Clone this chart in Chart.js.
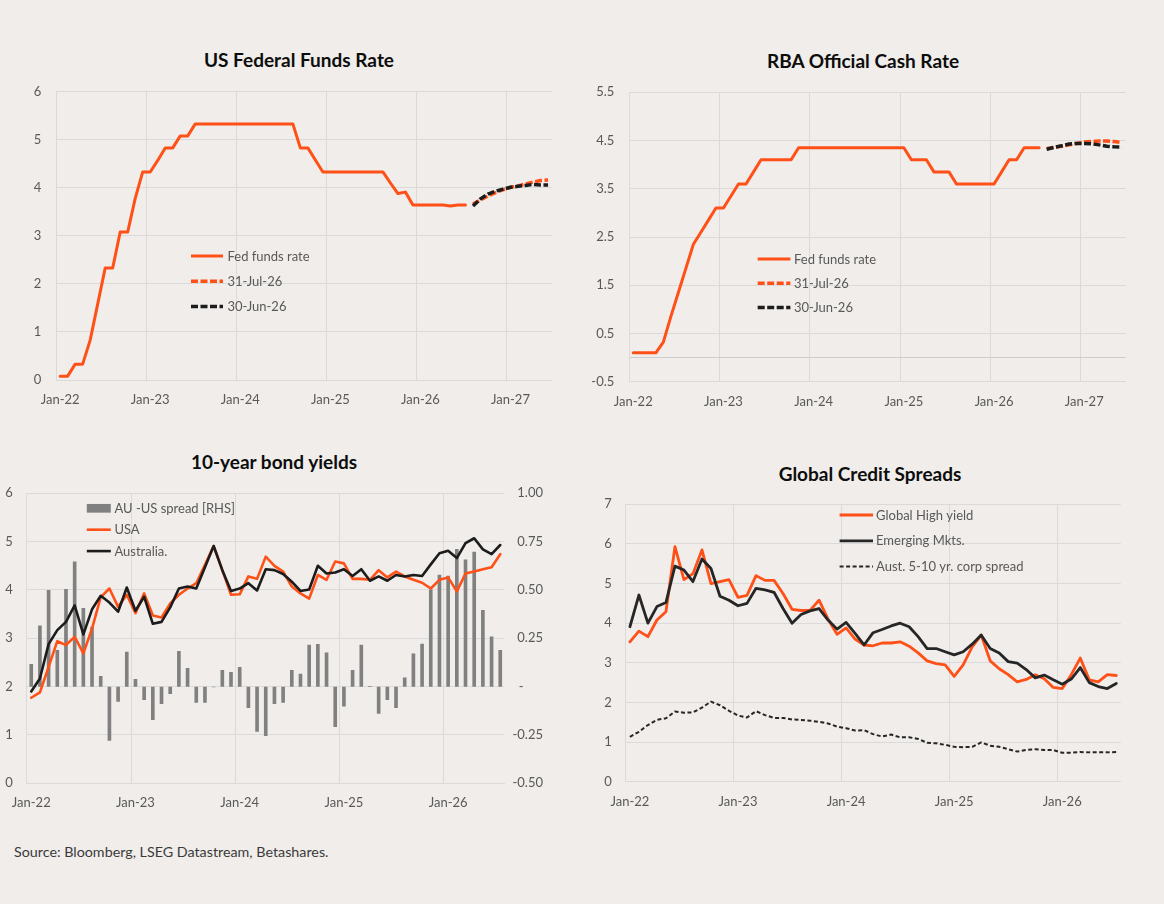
<!DOCTYPE html>
<html>
<head>
<meta charset="utf-8">
<script src="https://cdn.jsdelivr.net/npm/chart.js@4.4.1/dist/chart.umd.min.js"></script>
<style>
  html, body { margin: 0; padding: 0; }
  body { width: 1164px; height: 904px; background: #F0EDEA; position: relative; overflow: hidden; font-family: Lato, "Noto Sans", sans-serif; }
  .box { position: absolute; }
  .title { position: absolute; width: 400px; text-align: center; font: bold 19px Lato, "Noto Sans", sans-serif; color: #0d0d0d; line-height: 22px; }
  .source { position: absolute; left: 14px; top: 843px; font: 14.3px Lato, "Noto Sans", sans-serif; color: #3a3a3a; }
</style>
</head>
<body>
<div class="title" style="left:99px;top:49px;">US Federal Funds Rate</div>
<div class="title" style="left:663px;top:50px;">RBA Official Cash Rate</div>
<div class="title" style="left:74px;top:451px;">10-year bond yields</div>
<div class="title" style="left:670px;top:463px;">Global Credit Spreads</div>
<div class="source">Source: Bloomberg, LSEG Datastream, Betashares.</div>

<div class="box" style="left:0px;top:30px;width:580px;height:400px;"><canvas id="cA" width="580" height="400"></canvas></div>
<div class="box" style="left:580px;top:30px;width:584px;height:400px;"><canvas id="cB" width="584" height="400"></canvas></div>
<div class="box" style="left:0px;top:440px;width:580px;height:400px;"><canvas id="cC" width="580" height="400"></canvas></div>
<div class="box" style="left:580px;top:440px;width:584px;height:400px;"><canvas id="cD" width="584" height="400"></canvas></div>

<script>
// ---------------- DATA ----------------
const monthNames = ['Jan','Feb','Mar','Apr','May','Jun','Jul','Aug','Sep','Oct','Nov','Dec'];
function monthLabels(startYear, count) {
  const out = [];
  for (let i = 0; i < count; i++) {
    const y = startYear + Math.floor(i / 12);
    out.push(monthNames[i % 12] + '-' + String(y).slice(2));
  }
  return out;
}
// Categories: Jan-22 .. Jun-27 (policy rate charts), Jan-22 .. Jul-26 (market charts)
const policyMonths = monthLabels(2022, 66);
const marketMonths = monthLabels(2022, 55);

// US Federal Funds Rate (monthly, Jan-22 .. Jul-26)
const fedFunds = [0.08,0.08,0.33,0.33,0.83,1.58,2.33,2.33,3.08,3.08,3.78,4.33,4.33,4.57,4.83,4.83,5.08,5.08,
  5.33,5.33,5.33,5.33,5.33,5.33,5.33,5.33,5.33,5.33,5.33,5.33,5.33,5.33,
  4.83,4.83,4.58,4.33,4.33,4.33,4.33,4.33,4.33,4.33,4.33,4.33,4.10,3.88,3.91,3.64,3.64,3.64,3.64,3.64,3.62,3.64,3.64];
// Market-implied paths, Aug-26 .. Jun-27
const fedJul26 = [3.66,3.75,3.83,3.90,3.96,4.01,4.04,4.08,4.12,4.15,4.16];
const fedJun26 = [3.62,3.77,3.87,3.93,3.97,4.01,4.03,4.05,4.07,4.06,4.06];

// RBA Official Cash Rate (monthly, Jan-22 .. Jul-26)
const rbaCash = [0.10,0.10,0.10,0.10,0.32,0.85,1.35,1.85,2.35,2.60,2.85,3.10,3.10,3.35,3.60,3.60,3.85,4.10,4.10,4.10,4.10,4.10,
  4.35,4.35,4.35,4.35,4.35,4.35,4.35,4.35,4.35,4.35,4.35,4.35,4.35,4.35,4.35,
  4.10,4.10,4.10,3.85,3.85,3.85,3.60,3.60,3.60,3.60,3.60,3.60,3.85,4.10,4.10,4.35,4.35,4.35];
const rbaJul26 = [4.33,4.36,4.38,4.41,4.44,4.47,4.48,4.49,4.49,4.48,4.46];
const rbaJun26 = [4.32,4.36,4.39,4.43,4.44,4.44,4.43,4.41,4.38,4.37,4.365];
const rbaTickValues = [-0.5, 0, 0.5, 1.5, 2.5, 3.5, 4.5, 5.5];

// 10-year bond yields (monthly, Jan-22 .. Jul-26)
const auUsSpread = [0.117,0.316,0.50,0.19,0.505,0.647,0.407,0.31,0.055,-0.28,-0.078,0.18,0.04,-0.069,-0.172,-0.09,-0.038,0.184,0.097,-0.083,
  -0.083,-0.003,0.086,0.076,0.102,-0.11,-0.233,-0.255,-0.09,-0.083,0.086,0.067,0.217,0.22,0.176,-0.209,-0.103,0.086,0.217,0.003,
  -0.14,-0.069,-0.11,0.047,0.171,0.222,0.503,0.579,0.574,0.712,0.657,0.698,0.397,0.259,0.19];
const usa10y = [1.77,1.88,2.41,2.94,2.86,3.03,2.69,3.20,3.85,4.03,3.65,3.90,3.52,3.93,3.47,3.43,3.72,3.90,4.03,4.14,
  4.52,4.91,4.41,3.90,3.91,4.28,4.23,4.69,4.50,4.38,4.07,3.93,3.82,4.31,4.21,4.59,4.55,4.23,4.23,4.21,
  4.41,4.26,4.38,4.28,4.21,4.15,4.03,4.21,4.26,3.97,4.34,4.38,4.43,4.47,4.74];
const aus10y = [1.90,2.17,2.88,3.17,3.34,3.68,3.08,3.60,3.88,3.74,3.55,4.05,3.57,3.86,3.30,3.34,3.64,4.03,4.07,4.03,
  4.47,4.91,4.41,3.98,4.03,4.14,3.99,4.43,4.41,4.33,4.17,3.98,4.01,4.50,4.34,4.36,4.43,4.29,4.43,4.19,
  4.28,4.19,4.31,4.28,4.31,4.29,4.53,4.76,4.81,4.66,4.97,5.07,4.84,4.74,4.93];

// Global credit spreads (monthly, Jan-22 .. Jul-26)
const globalHY = [3.53,3.80,3.66,4.08,4.29,5.93,5.10,5.25,5.85,5.00,5.05,5.10,4.65,4.70,5.20,5.08,5.08,4.75,4.35,4.32,
  4.32,4.58,4.10,3.72,3.88,3.60,3.45,3.43,3.50,3.50,3.53,3.42,3.25,3.05,2.98,2.95,2.66,2.95,3.40,3.70,
  3.05,2.85,2.70,2.52,2.58,2.70,2.60,2.38,2.35,2.70,3.12,2.57,2.52,2.70,2.68];
const emergingMkts = [3.91,4.71,4.00,4.42,4.52,5.44,5.34,5.05,5.62,5.38,4.68,4.58,4.44,4.50,4.88,4.84,4.78,4.37,4.00,4.22,
  4.31,4.37,4.08,3.85,4.02,3.74,3.45,3.76,3.84,3.93,4.00,3.91,3.66,3.36,3.36,3.28,3.20,3.28,3.47,3.70,
  3.36,3.25,3.03,2.99,2.83,2.62,2.69,2.57,2.46,2.59,2.88,2.50,2.40,2.35,2.48];
const ausCorp = [1.13,1.26,1.43,1.56,1.60,1.77,1.74,1.75,1.87,2.02,1.93,1.79,1.67,1.62,1.78,1.68,1.61,1.61,1.57,1.56,
  1.54,1.51,1.47,1.39,1.35,1.29,1.30,1.20,1.14,1.19,1.12,1.12,1.08,0.98,0.97,0.93,0.88,0.87,0.88,0.99,
  0.91,0.88,0.82,0.76,0.80,0.82,0.80,0.80,0.73,0.73,0.75,0.74,0.74,0.74,0.75];

// ---------------- STYLE ----------------
const ORANGE = '#FF5017';
const BLACK = '#1C1C1C';
const GREY_BAR = '#808080';
const GRID = '#DADADA';
const TICK = '#595959';

function padFront(n, arr) { return new Array(n).fill(null).concat(arr); }

const inlineLegend = {
  id: 'inlineLegend',
  afterDraw(chart, args, opts) {
    const ctx = chart.ctx;
    ctx.save();
    ctx.font = '13px Lato, "Noto Sans", sans-serif';
    ctx.textBaseline = 'middle';
    ctx.textAlign = 'left';
    chart.data.datasets.forEach((ds, row) => {
      const y = opts.y + row * opts.gap;
      if (ds.type === 'bar') {
        ctx.fillStyle = ds.backgroundColor;
        ctx.fillRect(opts.x, y - opts.boxH / 2, opts.lineLen, opts.boxH);
      } else {
        ctx.strokeStyle = ds.borderColor;
        ctx.lineWidth = ds.borderWidth;
        ctx.lineCap = 'butt';
        ctx.setLineDash(ds.borderDash || []);
        ctx.beginPath();
        ctx.moveTo(opts.x, y);
        ctx.lineTo(opts.x + opts.lineLen, y);
        ctx.stroke();
        ctx.setLineDash([]);
      }
      ctx.fillStyle = TICK;
      ctx.fillText(ds.label, opts.x + opts.lineLen + opts.textGap, y + 0.5);
    });
    ctx.restore();
  }
};

function xAxis(height, pad) {
  return {
    type: 'category',
    offset: true,
    grid: {
      offset: true,
      drawTicks: false,
      color: (c) => (c.index !== undefined && c.index % 12 === 0) ? GRID : 'rgba(0,0,0,0)',
      lineWidth: 1
    },
    border: { display: true, color: GRID },
    ticks: {
      autoSkip: false, maxRotation: 0, minRotation: 0, padding: pad, color: TICK,
      font: { size: 13 },
      callback: function (v, i) { return i % 12 === 0 ? this.getLabelForValue(v) : ''; }
    },
    afterFit: (s) => { s.height = height; }
  };
}

function lineDs(label, data, color, width, dash, order) {
  return {
    type: 'line', label, data, borderColor: color, backgroundColor: color, borderWidth: width,
    borderDash: dash || [], pointRadius: 0, pointHoverRadius: 0, tension: 0, order,
    borderJoinStyle: 'round', borderCapStyle: dash ? 'butt' : 'round', spanGaps: false
  };
}

function build() {
  Chart.defaults.font.family = 'Lato, "Noto Sans", sans-serif';
  Chart.defaults.font.size = 13;
  Chart.defaults.color = TICK;
  Chart.defaults.animation = false;
  const common = { responsive: false, animation: false, events: [] };

  // ---- Chart A: US Federal Funds Rate ----
  new Chart(document.getElementById('cA'), {
    type: 'line',
    data: {
      labels: policyMonths,
      datasets: [
        lineDs('Fed funds rate', fedFunds, ORANGE, 3, null, 3),
        lineDs('31-Jul-26', padFront(fedFunds.length, fedJul26), ORANGE, 3.5, [7, 2.5], 2),
        lineDs('30-Jun-26', padFront(fedFunds.length, fedJun26), BLACK, 3.5, [7, 2.5], 1)
      ]
    },
    options: Object.assign({}, common, {
      layout: { padding: { top: 61.7, right: 28.2, left: 0, bottom: 0 } },
      plugins: { legend: { display: false }, tooltip: { enabled: false },
        inlineLegend: { x: 191, y: 226, gap: 25.3, lineLen: 32, textGap: 4.5, boxH: 9 } },
      scales: {
        x: xAxis(50, 12),
        y: {
          min: 0, max: 6, ticks: { stepSize: 1, padding: 15, color: TICK },
          grid: { color: GRID, drawTicks: false }, border: { display: false },
          afterFit: (s) => { s.width = 56.4; }
        }
      }
    }),
    plugins: [inlineLegend]
  });

  // ---- Chart B: RBA Official Cash Rate ----
  new Chart(document.getElementById('cB'), {
    type: 'line',
    data: {
      labels: policyMonths,
      datasets: [
        lineDs('Fed funds rate', rbaCash, ORANGE, 3, null, 3),
        lineDs('31-Jul-26', padFront(rbaCash.length, rbaJul26), ORANGE, 3.5, [7, 2.5], 2),
        lineDs('30-Jun-26', padFront(rbaCash.length, rbaJun26), BLACK, 3.5, [7, 2.5], 1)
      ]
    },
    options: Object.assign({}, common, {
      layout: { padding: { top: 62.3, right: 38.4, left: 0, bottom: 0 } },
      plugins: { legend: { display: false }, tooltip: { enabled: false },
        inlineLegend: { x: 177.7, y: 229, gap: 24.3, lineLen: 32.7, textGap: 3.6, boxH: 9 } },
      scales: {
        x: xAxis(48.3, 12.2),
        y: {
          min: -0.5, max: 5.5,
          afterBuildTicks: (s) => { s.ticks = rbaTickValues.map(v => ({ value: v })); },
          ticks: { padding: 15.2, color: TICK, callback: (v) => (v === 0 ? '' : String(v)) },
          grid: { color: (c) => (c.tick && c.tick.value === 0) ? '#CDCDCD' : GRID, drawTicks: false },
          border: { display: false },
          afterFit: (s) => { s.width = 49.5; }
        }
      }
    }),
    plugins: [inlineLegend]
  });

  // ---- Chart C: 10-year bond yields ----
  new Chart(document.getElementById('cC'), {
    data: {
      labels: marketMonths,
      datasets: [
        { type: 'bar', label: 'AU -US spread [RHS]', data: auUsSpread, backgroundColor: GREY_BAR, yAxisID: 'y1',
          barPercentage: 0.42, categoryPercentage: 1.0, order: 3 },
        Object.assign(lineDs('USA', usa10y, ORANGE, 2.6, null, 2), { yAxisID: 'y' }),
        Object.assign(lineDs('Australia.', aus10y, BLACK, 2.6, null, 1), { yAxisID: 'y' })
      ]
    },
    options: Object.assign({}, common, {
      layout: { padding: { top: 53.3, right: 37, left: 0, bottom: 0 } },
      plugins: { legend: { display: false }, tooltip: { enabled: false },
        inlineLegend: { x: 86.8, y: 68.3, gap: 21.4, lineLen: 24, textGap: 3.6, boxH: 8.7 } },
      scales: {
        x: xAxis(56.7, 11.6),
        y: {
          position: 'left', min: 0, max: 6, ticks: { stepSize: 1, padding: 14, color: TICK },
          grid: { color: GRID, drawTicks: false }, border: { display: false },
          afterFit: (s) => { s.width = 23.2; }
        },
        y1: {
          position: 'right', min: -0.5, max: 1.0,
          ticks: { stepSize: 0.25, crossAlign: 'far', color: TICK,
            callback: (v) => (Math.abs(v) < 1e-9 ? '-\u2002\u2002\u2002' : v.toFixed(2)) },
          grid: { display: false, drawTicks: false }, border: { display: false },
          afterFit: (s) => { s.width = 38.4; }
        }
      }
    }),
    plugins: [inlineLegend]
  });

  // ---- Chart D: Global Credit Spreads ----
  new Chart(document.getElementById('cD'), {
    type: 'line',
    data: {
      labels: marketMonths,
      datasets: [
        lineDs('Global High yield', globalHY, ORANGE, 2.8, null, 2),
        lineDs('Emerging Mkts.', emergingMkts, '#262626', 2.8, null, 1),
        lineDs('Aust. 5-10 yr. corp spread', ausCorp, '#262626', 2, [4, 2.5], 3)
      ]
    },
    options: Object.assign({}, common, {
      layout: { padding: { top: 64.3, right: 43.2, left: 0, bottom: 0 } },
      plugins: { legend: { display: false }, tooltip: { enabled: false },
        inlineLegend: { x: 259.6, y: 75, gap: 25.8, lineLen: 33.4, textGap: 3, boxH: 9 } },
      scales: {
        x: xAxis(58.3, 12.2),
        y: {
          min: 0, max: 7, ticks: { stepSize: 1, padding: 13.7, color: TICK },
          grid: { color: GRID, drawTicks: false }, border: { display: false },
          afterFit: (s) => { s.width = 45.4; }
        }
      }
    }),
    plugins: [inlineLegend]
  });
}

if (document.fonts && document.fonts.load) {
  Promise.all([document.fonts.load('13px Lato'), document.fonts.load('bold 19px Lato')]).then(build, build);
} else {
  build();
}
</script>
</body>
</html>
